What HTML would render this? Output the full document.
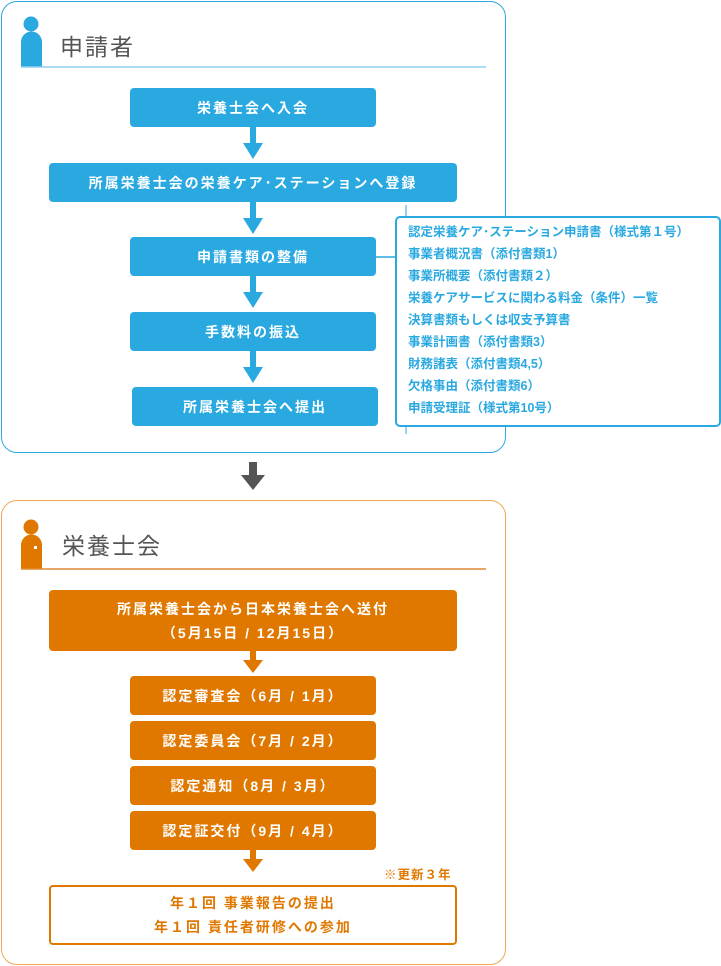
<!DOCTYPE html>
<html><head><meta charset="utf-8"><style>
*{margin:0;padding:0;box-sizing:border-box}
body{width:721px;height:966px;background:#fff;position:relative;overflow:hidden;font-family:"Liberation Sans","Noto Sans CJK JP",sans-serif}
.abs{position:absolute}
.frame{position:absolute;border-radius:16px;background:#fff}
.btn{position:absolute;color:#fff;font-size:14px;font-weight:bold;letter-spacing:2px;display:flex;align-items:center;justify-content:center;text-align:center;border-radius:4px;line-height:24px}
.b{background:#2aa9e0}
.o{background:#e07800}
.hd{position:absolute;font-size:23px;color:#555;letter-spacing:2px}
.list{position:absolute;left:395px;top:216px;width:326px;height:211px;border:2px solid #2aa9e0;border-radius:5px;background:#fff;padding:3px 0 0 11px;color:#2aa9e0;font-size:12.5px;font-weight:bold;line-height:22px;letter-spacing:0}
</style></head><body>
<div class="frame" style="left:1px;top:1px;width:505px;height:452px;border:1.5px solid #2aa9e0"></div>
<div class="frame" style="left:1px;top:500px;width:505px;height:465px;border:1.5px solid #f0a858"></div>

<svg class="abs" style="left:0;top:0" width="721" height="966">
<circle cx="31" cy="24" r="7.5" fill="#2aa9e0"/>
<path d="M21 67 V42 a10.5 10.5 0 0 1 21 0 V67 Z" fill="#2aa9e0"/>
<line x1="21" y1="67" x2="486" y2="67" stroke="#8fd0ef" stroke-width="1.5"/>
<circle cx="31" cy="527" r="7.5" fill="#e07800"/>
<path d="M21 569 V545 a10.5 10.5 0 0 1 21 0 V569 Z" fill="#e07800"/>
<rect x="34" y="546" width="3" height="3" fill="#fff"/>
<line x1="21" y1="569" x2="486" y2="569" stroke="#e08a30" stroke-width="1.5"/>
<line x1="376" y1="257" x2="396" y2="257" stroke="#2aa9e0" stroke-width="1.5"/>
<line x1="406" y1="205" x2="406" y2="217" stroke="#2aa9e0" stroke-width="1"/>
<line x1="406" y1="426" x2="406" y2="434" stroke="#2aa9e0" stroke-width="1"/>
<g fill="#2aa9e0">
<path d="M250 127h6v16h7l-10 16l-10-16h7z"/>
<path d="M250 202h6v16h7l-10 16l-10-16h7z"/>
<path d="M250 276h6v16h7l-10 16l-10-16h7z"/>
<path d="M250 351h6v16h7l-10 16l-10-16h7z"/>
</g>
<path d="M249 462h8v13h8l-12 15l-12-15h8z" fill="#555"/>
<g fill="#e07800">
<path d="M250 651h6v9h7l-10 13l-10-13h7z"/>
<path d="M250 850h6v9h7l-10 13l-10-13h7z"/>
</g>
</svg>

<div class="hd" style="left:60px;top:28px">申請者</div>
<div class="hd" style="left:62px;top:527px">栄養士会</div>

<div class="btn b" style="left:130px;top:88px;width:246px;height:39px">栄養士会へ入会</div>
<div class="btn b" style="left:49px;top:163px;width:408px;height:39px">所属栄養士会の栄養ケア･ステーションへ登録</div>
<div class="btn b" style="left:130px;top:237px;width:246px;height:39px">申請書類の整備</div>
<div class="btn b" style="left:130px;top:312px;width:246px;height:39px">手数料の振込</div>
<div class="btn b" style="left:132px;top:387px;width:246px;height:39px">所属栄養士会へ提出</div>

<div class="list">認定栄養ケア･ステーション申請書（様式第１号）<br>事業者概況書（添付書類1）<br>事業所概要（添付書類２）<br>栄養ケアサービスに関わる料金（条件）一覧<br>決算書類もしくは収支予算書<br>事業計画書（添付書類3）<br>財務諸表（添付書類4,5）<br>欠格事由（添付書類6）<br>申請受理証（様式第10号）</div>

<div class="btn o" style="left:49px;top:590px;width:408px;height:61px">所属栄養士会から日本栄養士会へ送付<br>（5月15日 / 12月15日）</div>
<div class="btn o" style="left:130px;top:676px;width:246px;height:39px">認定審査会（6月 / 1月）</div>
<div class="btn o" style="left:130px;top:721px;width:246px;height:39px">認定委員会（7月 / 2月）</div>
<div class="btn o" style="left:130px;top:766px;width:246px;height:39px">認定通知（8月 / 3月）</div>
<div class="btn o" style="left:130px;top:811px;width:246px;height:39px">認定証交付（9月 / 4月）</div>
<div class="abs" style="left:384px;top:864px;font-size:12.5px;color:#e07800;font-weight:bold;letter-spacing:1px">※更新３年</div>
<div class="btn" style="left:49px;top:885px;width:408px;height:60px;border:2px solid #e07800;color:#e07800;background:#fff">年１回 事業報告の提出<br>年１回 責任者研修への参加</div>
</body></html>
